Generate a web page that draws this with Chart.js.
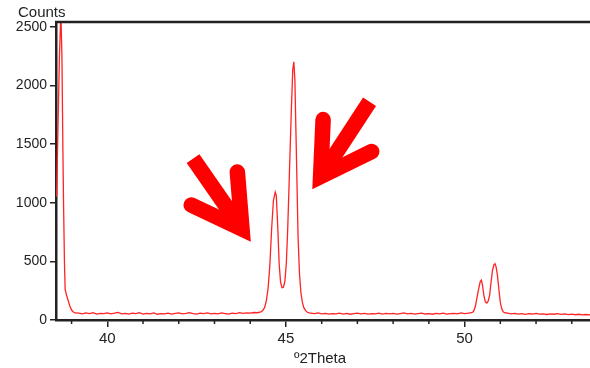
<!DOCTYPE html>
<html>
<head>
<meta charset="utf-8">
<script src="https://cdn.jsdelivr.net/npm/chart.js@4.4.0/dist/chart.umd.min.js"></script>
<style>
  body { margin: 0; background: #fff; }
  #xrd { display: block; }
</style>
</head>
<body>
<canvas id="xrd" width="590" height="368"></canvas>
<script>
// Diffraction scan (°2Theta / counts)
var twoTheta = [
  38.58, 38.62, 38.66, 38.70, 38.73, 38.755, 38.775, 38.80, 38.82, 38.86, 38.90, 38.95, 39.00, 39.05, 39.10,
  39.2, 39.3, 39.4, 39.5, 39.6, 39.7, 39.8, 39.9, 40.0, 40.1, 40.2, 40.3, 40.4, 40.5, 40.6, 40.7, 40.8, 40.9,
  41.0, 41.1, 41.2, 41.3, 41.4, 41.5, 41.6, 41.7, 41.8, 41.9, 42.0, 42.1, 42.2, 42.3, 42.4, 42.5, 42.6, 42.7,
  42.8, 42.9, 43.0, 43.1, 43.2, 43.3, 43.4, 43.5, 43.6, 43.7, 43.8, 43.9, 44.0, 44.1, 44.2, 44.3,
  44.35, 44.40, 44.45, 44.50, 44.55, 44.60, 44.65, 44.70, 44.73, 44.77, 44.81, 44.85, 44.89, 44.93, 44.97,
  45.01, 45.05, 45.10, 45.15, 45.19, 45.22, 45.25, 45.28, 45.31, 45.34, 45.38, 45.42, 45.46, 45.50, 45.55,
  45.60, 45.65,
  45.7, 45.8, 45.9, 46.0, 46.1, 46.2, 46.3, 46.4, 46.5, 46.6, 46.7, 46.8, 46.9, 47.0, 47.1, 47.2, 47.3, 47.4,
  47.5, 47.6, 47.7, 47.8, 47.9, 48.0, 48.1, 48.2, 48.3, 48.4, 48.5, 48.6, 48.7, 48.8, 48.9, 49.0, 49.1, 49.2,
  49.3, 49.4, 49.5, 49.6, 49.7, 49.8, 49.9, 50.0, 50.1, 50.2,
  50.25, 50.30, 50.35, 50.40, 50.44, 50.47, 50.50, 50.54, 50.58, 50.62, 50.66, 50.70, 50.74, 50.78, 50.82,
  50.85, 50.88, 50.92, 50.96, 51.00, 51.04, 51.08, 51.12,
  51.2, 51.3, 51.4, 51.5, 51.6, 51.7, 51.8, 51.9, 52.0, 52.1, 52.2, 52.3, 52.4, 52.5, 52.6, 52.7, 52.8, 52.9,
  53.0, 53.1, 53.2, 53.3, 53.4, 53.5, 53.55
];
var counts = [
  1050, 1650, 2250, 2620, 2250, 1500, 1000, 500, 260, 210, 170, 120, 85, 68, 60,
  58, 52, 60, 55, 63, 50, 57, 54, 61, 52, 58, 65, 53, 56, 50, 58, 54, 62,
  51, 57, 53, 60, 49, 55, 52, 58, 50, 56, 60, 52, 57, 63, 54, 50, 58, 55,
  61, 52, 57, 53, 60, 55, 50, 58, 54, 62, 56, 60, 58, 64, 62, 70,
  80, 105, 160, 270, 470, 780, 1020, 1090, 1060, 800, 480, 320, 275, 280, 330,
  480, 780, 1280, 1780, 2130, 2200, 2050, 1600, 1150, 700, 390, 230, 150, 105, 80,
  66, 60,
  58, 54, 60, 52, 57, 50, 55, 53, 59, 51, 56, 49, 54, 58, 52, 56, 50, 55,
  53, 58, 51, 56, 52, 57, 50, 55, 60, 52, 56, 50, 54, 58, 51, 55, 49, 56,
  52, 58, 50, 54, 57, 52, 60, 55, 58, 62,
  72, 115, 195, 275, 330, 340, 300, 210, 155, 145, 160, 210, 320, 420, 470,
  480, 455, 380, 260, 150, 95, 70, 62,
  58, 52, 56, 50, 54, 48, 55, 51, 57, 50, 53, 47, 52, 49, 55, 48, 52, 46,
  50, 45, 49, 43, 47, 44, 48
];
var xTicksLabelled = [40, 45, 50];
var yTicks = [0, 500, 1000, 1500, 2000, 2500];

// arrow annotations in data units: tail of shaft, inner corner, two barb ends
var arrows = [
  { tail: [42.40, 1376], corner: [43.77, 775], barbA: [42.35, 980], barbB: [43.64, 1261] },
  { tail: [47.34, 1861], corner: [45.97, 1222], barbA: [46.04, 1708], barbB: [47.40, 1436] }
];

var points = twoTheta.map(function (t, i) { return { x: t, y: counts[i] }; });

var axisColor = '#222';
var fontFamily = '"Liberation Sans", Arial, sans-serif';

var extras = {
  id: 'extras',
  afterDraw: function (chart) {
    var c = chart.ctx, area = chart.chartArea;
    var xs = chart.scales.x, ys = chart.scales.y;
    c.save();
    // top frame line
    c.strokeStyle = axisColor;
    c.lineWidth = 2.5;
    c.beginPath();
    c.moveTo(area.left - 1, area.top);
    c.lineTo(area.right, area.top);
    c.stroke();
    // minor ticks on x
    c.lineWidth = 1.5;
    xs.ticks.forEach(function (t) {
      if (xTicksLabelled.indexOf(t.value) !== -1) return;
      var px = xs.getPixelForValue(t.value);
      c.beginPath();
      c.moveTo(px, area.bottom);
      c.lineTo(px, area.bottom + 4);
      c.stroke();
    });
    // axis titles
    c.fillStyle = '#222';
    c.font = '15px ' + fontFamily;
    c.textBaseline = 'alphabetic';
    c.textAlign = 'center';
    c.fillText('º2Theta', (area.left + area.right) / 2 - 3, 363);
    c.textAlign = 'left';
    c.save();
    c.beginPath();
    c.rect(0, 5, 120, 20);
    c.clip();
    c.fillText('Counts', 18, 16.5);
    c.restore();
    // arrows
    c.strokeStyle = '#ff0000';
    arrows.forEach(function (a) {
      function px(p) { return [xs.getPixelForValue(p[0]), ys.getPixelForValue(p[1])]; }
      var t = px(a.tail), k = px(a.corner), b1 = px(a.barbA), b2 = px(a.barbB);
      c.lineWidth = 15.5;
      c.lineCap = 'butt';
      c.beginPath();
      c.moveTo(t[0], t[1]);
      c.lineTo(k[0], k[1]);
      c.stroke();
      c.lineWidth = 15.5;
      c.lineCap = 'round';
      c.lineJoin = 'miter';
      c.miterLimit = 10;
      c.beginPath();
      c.moveTo(b1[0], b1[1]);
      c.lineTo(k[0], k[1]);
      c.lineTo(b2[0], b2[1]);
      c.stroke();
    });
    c.restore();
  }
};

new Chart(document.getElementById('xrd'), {
  type: 'line',
  data: {
    datasets: [{
      data: points,
      borderColor: 'rgb(255, 35, 35)',
      borderWidth: 1.3,
      pointRadius: 0,
      tension: 0,
      fill: false
    }]
  },
  options: {
    responsive: false,
    animation: false,
    layout: { padding: { top: 22, right: 0, left: 0, bottom: 0 } },
    plugins: { legend: { display: false }, tooltip: { enabled: false } },
    scales: {
      x: {
        type: 'linear',
        min: 38.564,
        max: 53.51,
        afterFit: function (s) { s.height = 48; },
        ticks: {
          stepSize: 1,
          includeBounds: false,
          autoSkip: false,
          maxRotation: 0,
          padding: 3,
          color: '#222',
          font: { family: fontFamily, size: 15 },
          callback: function (v) { return xTicksLabelled.indexOf(v) !== -1 ? String(v) : ''; }
        },
        grid: {
          drawOnChartArea: false,
          tickLength: 7,
          lineWidth: 1.5,
          color: function (ctx) {
            return ctx.tick && xTicksLabelled.indexOf(ctx.tick.value) !== -1 ? axisColor : 'rgba(0,0,0,0)';
          }
        },
        border: { color: axisColor, width: 2.5 }
      },
      y: {
        min: 0,
        max: 2540,
        afterFit: function (s) { s.width = 56; },
        afterBuildTicks: function (s) { s.ticks = yTicks.map(function (v) { return { value: v }; }); },
        ticks: {
          padding: 3,
          color: '#222',
          font: { family: fontFamily, size: 14 },
          callback: function (v) { return String(v); }
        },
        grid: { drawOnChartArea: false, tickLength: 6, lineWidth: 1.5, color: axisColor },
        border: { color: axisColor, width: 2.5 }
      }
    }
  },
  plugins: [extras]
});
</script>
</body>
</html>
